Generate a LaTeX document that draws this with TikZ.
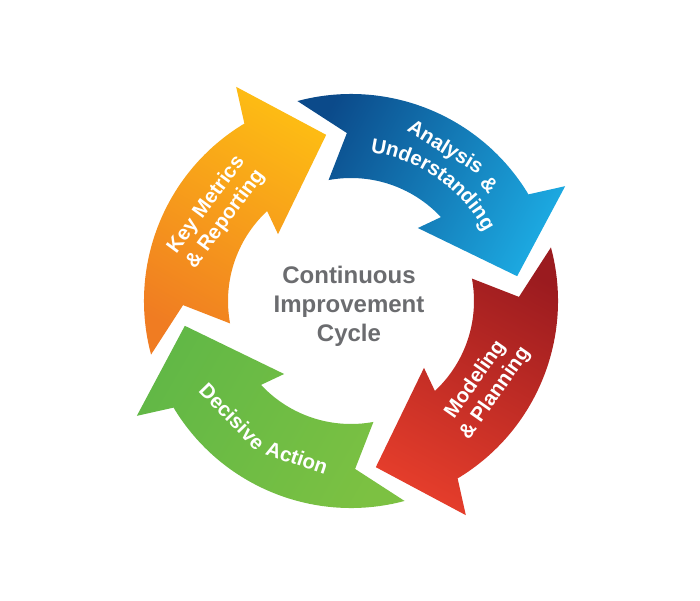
\documentclass[tikz,border=0pt]{standalone}
\usepackage{fontspec}
\setmainfont{Liberation Sans}
\usetikzlibrary{decorations.text}
\definecolor{bluedark}{HTML}{0B4A8A}
\definecolor{bluelight}{HTML}{1CA8E0}
\definecolor{reddark}{HTML}{9B1B1F}
\definecolor{redlight}{HTML}{E43D2B}
\definecolor{greenhead}{HTML}{62B846}
\definecolor{greentail}{HTML}{7CC142}
\definecolor{orangetail}{HTML}{F07C22}
\definecolor{orangemid}{HTML}{F69E1C}
\definecolor{orangehead}{HTML}{FDBB14}
\definecolor{textgray}{HTML}{6B6C6F}
\newcommand\cyclearrowpath[1]{%
 ({105+#1}:207) arc[start angle={105+#1}, end angle={31+#1}, radius=207]
 -- ({28.2+#1}:243) -- ({8.5+#1}:168) -- ({47.5+#1}:99) -- ({43+#1}:123)
 arc[start angle={43+#1}, end angle={100.5+#1}, radius=123]
 -- ({91.4+#1}:168) -- cycle}
\tikzset{
 labelnode/.style={text=white, font=\fontsize{20.5}{24}\selectfont\bfseries, align=center, inner sep=0pt},
 wordnode/.style={text=white, font=\fontsize{20.5}{24}\selectfont\bfseries, inner sep=0pt, anchor=base},
 titlenode/.style={text=textgray, font=\fontsize{24}{29}\selectfont\bfseries, align=center}
}
\begin{document}
\begin{tikzpicture}[x=1pt,y=1pt]
\useasboundingbox (-351,-299) rectangle (349,301);
\fill[white] (-351,-299) rectangle (349,301);
% arrows
\shade[top color=bluedark, bottom color=bluelight, shading angle=62] \cyclearrowpath{0};
\shade[top color=reddark, bottom color=redlight, shading angle=-28] \cyclearrowpath{-90};
\shade[top color=greenhead, bottom color=greentail, shading angle=60] \cyclearrowpath{-180};
\shade[top color=orangehead, middle color=orangemid, bottom color=orangetail, shading angle=-30] \cyclearrowpath{90};
% blue label
\node[wordnode, rotate=-31.6] (analysis) at (58.4:174) {Analysis};
\node[wordnode, rotate=-49.8] (amp) at (40.2:174) {\&};
\path[decorate, decoration={text along path, text align=center, text color=white, text={|\fontsize{20.5}{20.5}\selectfont\bfseries|Understanding}}] (95:150) arc[start angle=95, end angle=15, radius=150];
% green label
\node[wordnode, rotate=314.2] (decisive) at (224.2:173) {Decisive};
\node[wordnode, rotate=341] (action) at (251:173) {Action};
% straight labels
\node[labelnode, rotate=53.5] (keymetrics) at (-135,89) {Key Metrics\\\& Reporting};
\node[labelnode, rotate=55] (modeling) at (134.5,-85.5) {Modeling\\\& Planning};
% centre
\node[titlenode] (title) at (-2,-5) {Continuous\\Improvement\\Cycle};
\end{tikzpicture}
\end{document}
